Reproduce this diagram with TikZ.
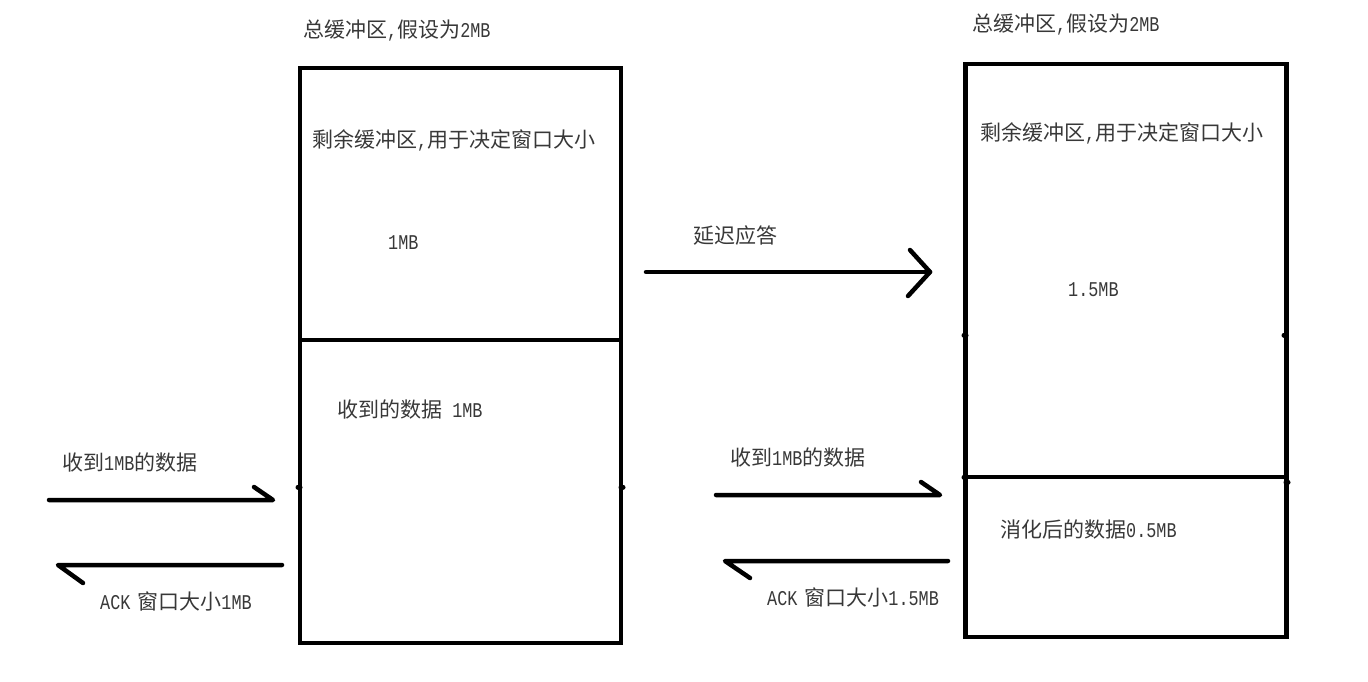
\documentclass[tikz,border=0pt]{standalone}
\usepackage{fontspec}
\setmainfont{Noto Sans CJK SC}
\newfontfamily\latf[FakeStretch=0.8]{Liberation Mono}
\newcommand{\lt}[1]{{\latf #1}}
\begin{document}
\begin{tikzpicture}[x=1pt,y=-1pt,
  lbl/.style={anchor=west,inner sep=0pt,text=black!78,font=\fontsize{21}{21}\selectfont},
  boxst/.style={draw,line width=4.5pt,minimum width=321pt,minimum height=575pt,inner sep=0pt},
  thick line/.style={line width=4.5pt},
  tick/.style={line width=5pt,line cap=round},
  arr/.style={line width=4.5pt,line cap=round,line join=round}]
\useasboundingbox (0,0) rectangle (1368,682);
% boxes
\node[boxst] (LB) at (460.5,355.5) {};
\node[boxst,minimum height=573pt] (RB) at (1126,350.5) {};
% dividers
\coordinate (LD1) at (300,340); \coordinate (LD2) at (621,340);
\coordinate (RD1) at (966,477); \coordinate (RD2) at (1286,477);
\draw[thick line] (LD1) -- (LD2);
\draw[thick line] (RD1) -- (RD2);
% small tick marks
\coordinate (t1) at (300,487); \coordinate (t2) at (621,487);
\coordinate (t3) at (966,335); \coordinate (t4) at (1286,335);
\draw[tick] (t1) -- ++(-2,0);
\draw[tick] (t2) -- ++(2,0);
\draw[tick] (t3) -- ++(-2,0);
\draw[tick] (t4) -- ++(-2,0);
\draw[tick] (RD1) -- ++(-2,0);
\draw[tick] (1286,482) -- ++(2,0);
% texts
\node[lbl] (t_total1) at (303,31) {总缓冲区\lt{,}假设为\lt{2MB}};
\node[lbl] (t_total2) at (972,25) {总缓冲区\lt{,}假设为\lt{2MB}};
\node[lbl] (t_rem1) at (312,140) {剩余缓冲区\lt{,}用于决定窗口大小};
\node[lbl] (t_rem2) at (980,133) {剩余缓冲区\lt{,}用于决定窗口大小};
\node[lbl] (t_1mb) at (388,243) {\lt{1MB}};
\node[lbl] (t_delay) at (693,236) {延迟应答};
\node[lbl] (t_15mb) at (1068,290) {\lt{1.5MB}};
\node[lbl] (t_recv) at (337,410) {收到的数据\lt{ 1MB}};
\node[lbl] (t_in1) at (62,463) {收到\lt{1MB}的数据};
\node[lbl] (t_in2) at (730,458) {收到\lt{1MB}的数据};
\node[lbl] (t_ack1) at (100,601) {\lt{ACK}\hspace{7pt}窗口大小\lt{1MB}};
\node[lbl] (t_dig) at (1000,530) {消化后的数据\lt{0.5MB}};
\node[lbl] (t_ack2) at (767,597) {\lt{ACK}\hspace{7pt}窗口大小\lt{1.5MB}};
% arrows
\coordinate (a1s) at (49,500); \coordinate (a1e) at (273,500);
\draw[arr] (a1s) -- (a1e) -- ++(-19,-13);
\coordinate (a2s) at (282,565); \coordinate (a2e) at (58,565);
\draw[arr] (a2s) -- (a2e) -- ++(25,18);
\coordinate (a3s) at (646,272); \coordinate (a3e) at (930,272);
\draw[arr] (910,250) -- (a3e) -- (908,296);
\draw[arr] (a3s) -- (a3e);
\coordinate (a4s) at (716,495); \coordinate (a4e) at (940,495);
\draw[arr] (a4s) -- (a4e) -- ++(-19,-13);
\coordinate (a5s) at (948,561); \coordinate (a5e) at (725,561);
\draw[arr] (a5s) -- (a5e) -- ++(25,17);
\end{tikzpicture}
\end{document}
